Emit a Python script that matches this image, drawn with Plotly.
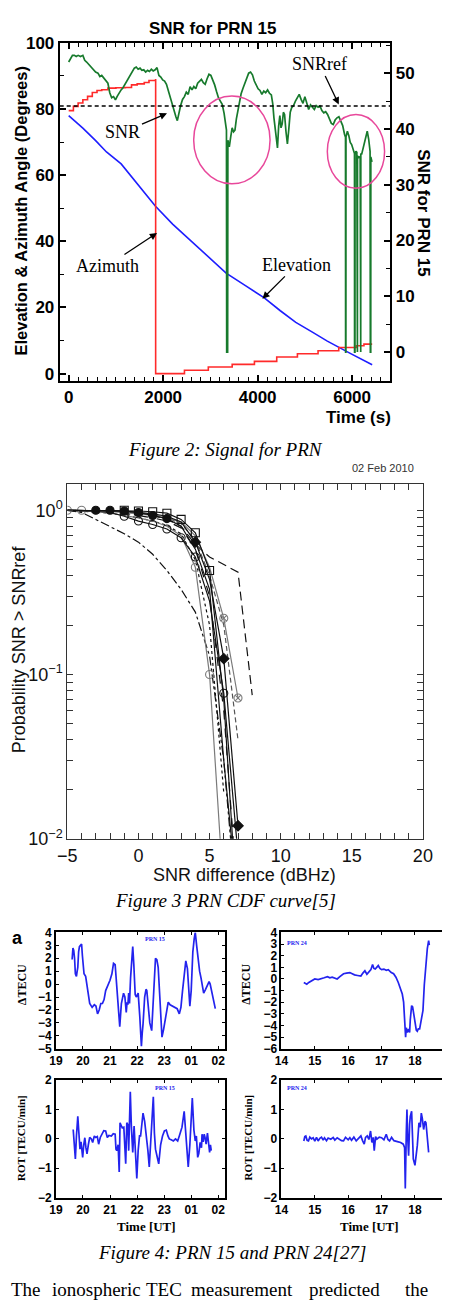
import plotly.graph_objects as go

W, H = 452, 1312
def fx(p): return p / W
def fy(p): return 1 - p / H

# ---------------- Figure 2 : SNR for PRN 15 ----------------
snr_t = [0, 40, 80, 120, 160, 200, 250, 300, 340, 380,
         420, 470, 520, 570, 620, 660, 700, 750, 790, 830,
         870, 910, 950, 990, 1030, 1070, 1110, 1150, 1190, 1230,
         1270, 1310, 1350, 1390, 1430, 1470, 1510, 1550, 1590, 1630,
         1670, 1710, 1750, 1790, 1830, 1870, 1910, 1950, 1990, 2030,
         2070, 2110, 2150, 2190, 2230, 2270, 2300, 2330, 2370, 2410,
         2450, 2490, 2530, 2570, 2610, 2650, 2690, 2730, 2770, 2810,
         2850, 2890, 2930, 2970, 3010, 3050, 3090, 3130, 3170, 3210,
         3250, 3290, 3320, 3340, 3345, 3365, 3370, 3400, 3430, 3460,
         3490, 3520, 3550, 3580, 3610, 3650, 3690, 3730, 3770, 3810,
         3850, 3890, 3930, 3970, 4010, 4050, 4090, 4130, 4170, 4210,
         4250, 4290, 4320, 4345, 4370, 4395, 4420, 4445, 4470, 4495,
         4520, 4545, 4570, 4600, 4630, 4660, 4690, 4720, 4760, 4800,
         4840, 4880, 4920, 4960, 5000, 5040, 5080, 5120, 5160, 5200,
         5240, 5280, 5320, 5360, 5400, 5440, 5480, 5520, 5560, 5600,
         5640, 5680, 5720, 5760, 5800, 5840, 5860, 5862, 5868, 5870,
         5900, 5930, 5960, 5990, 6020, 6050, 6052, 6060, 6062, 6080,
         6100, 6104, 6112, 6114, 6130, 6150, 6170, 6172, 6182, 6184,
         6200, 6230, 6260, 6290, 6320, 6350, 6380, 6386, 6394, 6396,
         6420]
snr_v = [52.0, 52.5, 53.2, 53.2, 53.0, 53.2, 53.0, 53.2, 52.3, 52.0,
         51.6, 51.2, 50.8, 50.2, 50.0, 49.4, 49.6, 49.0, 48.6, 48.2,
         46.5, 45.6, 45.8, 45.2, 45.9, 46.5, 47.0, 47.4, 48.0, 48.5,
         49.2, 49.8, 50.4, 50.9, 51.1, 50.7, 50.9, 50.5, 50.6, 50.2,
         50.5, 50.3, 50.7, 50.4, 50.6, 51.0, 49.6, 49.3, 48.8, 48.6,
         48.0, 46.8, 45.6, 44.2, 43.0, 42.2, 41.5, 42.8, 44.2, 45.3,
         45.8, 46.6, 46.2, 47.6, 47.0, 47.6, 47.2, 48.2, 48.6, 48.9,
         48.3, 48.0, 49.0, 49.8, 49.6, 48.8, 47.9, 46.7, 45.6, 45.0,
         44.4, 42.8, 41.0, 39.8, 0.0, 0.0, 38.0, 36.8, 38.6, 40.2,
         39.5, 39.8, 41.8, 43.2, 44.6, 46.3, 47.3, 48.2, 49.4, 50.0,
         50.2, 49.7, 48.6, 47.8, 47.2, 46.9, 46.2, 46.8, 46.5, 47.0,
         46.4, 46.1, 44.5, 42.0, 39.8, 37.5, 36.6, 40.5, 42.4, 40.2,
         40.9, 43.0, 42.6, 39.5, 37.3, 40.0, 43.0, 43.8, 44.2, 45.0,
         45.6, 46.2, 45.3, 44.6, 45.8, 44.8, 43.5, 44.3, 43.8, 43.5,
         44.2, 43.9, 44.1, 43.3, 42.9, 43.1, 42.6, 41.8, 41.0, 40.8,
         41.6, 42.0, 42.2, 41.4, 40.6, 39.0, 38.5, 0.0, 0.0, 38.6,
         39.6, 38.8, 37.6, 37.2, 36.2, 35.6, 0.0, 0.0, 35.4, 36.0,
         35.8, 0.0, 0.0, 35.2, 34.8, 35.0, 34.9, 0.0, 0.0, 35.6,
         35.4, 36.4, 37.8, 38.8, 39.6, 38.2, 36.0, 0.0, 0.0, 35.0,
         34.1]
az_t = [0, 100, 200, 300, 400, 500, 600, 700, 830, 1000, 1200, 1330, 1450, 1600, 1700,
        1840, 1841, 2451, 2956, 3461, 3932, 4404, 4842, 5279, 5717, 6087, 6250, 6424]
az_v = [79.5, 80.8, 81.8, 82.8, 83.8, 85.0, 85.6, 85.8, 86.3, 86.4, 86.5, 87.3, 87.6, 88.0, 88.6,
        88.8, 0.0, 1.0, 2.0, 2.8, 3.7, 5.0, 6.0, 6.9, 7.9, 8.4, 8.9, 8.9]
el_t = [0, 300, 566, 800, 1111, 1400, 1838, 2200, 2586, 2950, 3333, 3750, 4141, 4480, 4808, 5150, 5475, 5950, 6424]
el_v = [78.0, 74.2, 70.5, 67.0, 63.4, 58.4, 50.6, 45.2, 40.2, 35.2, 30.4, 26.5, 22.9, 19.0, 15.5, 12.6, 9.8, 6.2, 2.7]
snr_ref_level = 44.1

# ---------------- Figure 3 : CDF curves ----------------
cdf_x = [-5, -4, -3, -2, -1, 0, 1, 2, 3, 4, 5, 6, 7, 8]
cdf_a = [1.0, 1.0, 0.98, 0.96, 0.93, 0.90, 0.86, 0.80, 0.70, 0.45, 0.10, 0.0045]
cdf_b = [1.0, 1.0, 1.0, 1.0, 0.99, 0.97, 0.93, 0.89, 0.80, 0.58, 0.33, 0.03, 0.004]
cdf_c = [1.0, 1.0, 1.0, 1.0, 1.0, 0.99, 0.98, 0.96, 0.88, 0.73, 0.43, 0.07, 0.003]
cdf_d = [1.0, 1.0, 1.0, 1.0, 0.99, 0.97, 0.95, 0.92, 0.85, 0.64, 0.38, 0.125, 0.012]
cdf_e = [1.0, 1.0, 0.99, 0.98, 0.97, 0.95, 0.93, 0.90, 0.85, 0.70, 0.45, 0.22, 0.072]
cdf_f = [1.0, 0.99, 0.98, 0.96, 0.93, 0.90, 0.86, 0.81, 0.72, 0.50, 0.20, 0.019]
cdf_g = [1.0, 1.0, 0.99, 0.98, 0.96, 0.93, 0.90, 0.86, 0.78, 0.58, 0.30, 0.06, 0.004]
cdf_h = [1.0, 0.97, 0.88, 0.80, 0.72, 0.64, 0.54, 0.43, 0.33, 0.24, 0.13, 0.03, 0.003]
cdf_i = [1.0, 1.0, 1.0, 0.99, 0.98, 0.96, 0.93, 0.88, 0.80, 0.62, 0.52, 0.47, 0.42, 0.075]
cdf_j = [1.0, 1.0, 1.0, 0.99, 0.98, 0.96, 0.94, 0.90, 0.83, 0.66, 0.40, 0.20, 0.04]
cdf_k = [1.0, 1.0, 0.99, 0.97, 0.92, 0.86, 0.82, 0.77, 0.68, 0.52, 0.28, 0.077, 0.008]

# ---------------- Figure 4 : four panels ----------------
tl_t = [19.6, 19.63, 19.66, 19.69, 19.72, 19.76, 19.78, 19.81, 19.84, 19.87,
        19.91, 19.95, 19.98, 20.01, 20.04, 20.1, 20.17, 20.25, 20.34, 20.42,
        20.48, 20.54, 20.6, 20.66, 20.72, 20.78, 20.84, 20.92, 21.0, 21.07,
        21.13, 21.19, 21.25, 21.3, 21.36, 21.42, 21.47, 21.5, 21.55, 21.6,
        21.63, 21.66, 21.69, 21.72, 21.76, 21.8, 21.84, 21.88, 21.93, 21.97,
        22.04, 22.1, 22.16, 22.19, 22.22, 22.28, 22.33, 22.36, 22.4, 22.47,
        22.54, 22.6, 22.64, 22.68, 22.73, 22.78, 22.84, 22.88, 22.92, 22.98,
        23.05, 23.1, 23.15, 23.22, 23.31, 23.4, 23.48, 23.56, 23.62, 23.68,
        23.74, 23.8, 23.86, 23.91, 23.95, 24.0, 24.06, 24.11, 24.15, 24.2,
        24.26, 24.31, 24.36, 24.41, 24.46, 24.53, 24.6, 24.66, 24.7, 24.74,
        24.78, 24.83, 24.89]
tl_v = [1.9, 2.8, 2.6, 2.0, 0.8, 0.6, 0.9, 1.3, 2.5, 2.9,
        3.0, 3.1, 2.2, 1.0, 0.8, 0.6, -0.5, -1.5, -1.8, -1.6,
        -1.7, -2.3, -2.0, -1.5, -1.5, -1.2, -0.5, -0.1, 0.3, 0.8,
        1.6, 1.5, -0.4, -2.0, -3.3, -1.5, -0.8, -0.7, -1.0, -2.2,
        -1.4, -1.6, -0.7, -1.5, 0.5, 2.2, 2.9, 1.5, -0.8, -1.0,
        -0.7, -2.5, -4.8, -3.8, -3.1, -1.0, -0.4, -0.5, -1.5, -3.0,
        -3.6, -1.0, 1.0, 2.0, 1.9, 1.3, -1.0, -3.0, -4.1, -3.5,
        -2.5, -1.8, -1.4, -1.6, -1.7, -1.8, -1.9, -2.3, -1.8, -0.5,
        0.8, 1.8, 1.2, -1.0, -1.7, -0.5, 2.5, 3.5, 4.0, 3.0,
        1.8, 1.0, 0.5, -0.2, -0.7, -0.4, -0.1, 0.2, 0.0, -0.4,
        -0.8, -1.2, -1.9]
tr_t = [14.67, 14.72, 14.76, 14.82, 14.9, 14.95, 15.0, 15.1, 15.19, 15.28,
        15.38, 15.45, 15.52, 15.6, 15.67, 15.75, 15.86, 15.95, 16.05, 16.12,
        16.19, 16.28, 16.38, 16.44, 16.5, 16.56, 16.62, 16.68, 16.73, 16.77,
        16.81, 16.86, 16.9, 16.95, 17.0, 17.07, 17.14, 17.2, 17.29, 17.36,
        17.43, 17.5, 17.57, 17.62, 17.66, 17.69, 17.72, 17.74, 17.77, 17.81,
        17.84, 17.86, 17.9, 17.93, 17.97, 18.0, 18.04, 18.07, 18.1, 18.14,
        18.19, 18.24, 18.28, 18.33, 18.37, 18.41, 18.43]
tr_v = [-0.3, -0.4, -0.45, -0.3, -0.15, -0.05, 0.0, -0.05, 0.0, 0.1,
        0.2, 0.1, 0.15, 0.05, 0.0, 0.2, 0.45, 0.5, 0.55, 0.45,
        0.35, 0.3, 0.25, 0.5, 0.7, 0.4, 0.6, 0.8, 1.25, 0.9,
        0.85, 1.0, 1.15, 0.9, 0.8, 0.85, 0.75, 0.8, 0.55, 0.45,
        0.15, -0.3, -0.85, -1.3, -2.0, -3.5, -5.0, -4.2, -4.6, -4.3,
        -4.6, -3.5, -2.3, -2.4, -3.2, -3.6, -4.4, -4.5, -4.3, -4.3,
        -3.6, -2.7, -0.5, 1.5, 2.6, 3.3, 2.9]
bl_t = [19.64, 19.68, 19.72, 19.76, 19.81, 19.85, 19.89, 19.93, 19.99, 20.03,
        20.07, 20.11, 20.15, 20.2, 20.25, 20.31, 20.36, 20.42, 20.47, 20.53,
        20.58, 20.64, 20.7, 20.77, 20.84, 20.9, 20.96, 21.05, 21.12, 21.19,
        21.22, 21.25, 21.3, 21.34, 21.37, 21.4, 21.45, 21.51, 21.55, 21.58,
        21.62, 21.66, 21.69, 21.72, 21.75, 21.79, 21.84, 21.89, 21.94, 21.99,
        22.04, 22.09, 22.13, 22.18, 22.22, 22.28, 22.34, 22.4, 22.45, 22.52,
        22.6, 22.64, 22.68, 22.74, 22.8, 22.87, 22.94, 23.01, 23.08, 23.14,
        23.19, 23.26, 23.34, 23.42, 23.5, 23.56, 23.6, 23.66, 23.74, 23.8,
        23.85, 23.89, 23.95, 24.0, 24.04, 24.1, 24.15, 24.19, 24.24, 24.28,
        24.33, 24.38, 24.4, 24.44, 24.48, 24.51, 24.55, 24.6, 24.64, 24.68,
        24.71, 24.74]
bl_v = [0.32, -0.2, -0.68, 0.1, 0.77, 0.2, -0.35, -0.1, -0.63, -0.2,
        0.04, -0.3, -0.51, -0.2, 0.05, 0.0, -0.12, 0.1, 0.05, 0.08,
        -0.18, 0.05, 0.15, 0.28, 0.27, 0.05, 0.12, 0.1, 0.18, 0.16,
        -0.35, -0.4, -0.2, -1.13, 0.55, 0.5, 0.38, 0.4, -0.2, -0.85,
        0.55, 0.48, -0.4, 0.3, 1.61, 0.4, -0.46, 0.44, -0.3, -1.35,
        -0.4, 0.1, 0.1, 0.5, 0.88, 0.6, 0.16, -0.4, -0.96, 0.0,
        1.44, 0.2, -0.35, -0.6, -0.85, -0.2, 0.1, 0.27, 0.3, 0.1,
        0.0, -0.03, -0.07, 0.0, -0.07, 0.1, 0.21, 0.4, 0.94, 0.3,
        -0.5, -0.96, -0.2, 0.6, 1.39, 0.3, -0.07, 0.1, -0.63, -0.5,
        -0.12, -0.3, 0.16, -0.1, 0.16, 0.05, -0.18, 0.2, -0.3, -0.46,
        -0.2, -0.4]
br_t = [14.67, 14.7, 14.73, 14.77, 14.81, 14.85, 14.9, 14.95, 15.0, 15.05,
        15.1, 15.15, 15.2, 15.25, 15.29, 15.35, 15.4, 15.48, 15.55, 15.6,
        15.67, 15.72, 15.8, 15.86, 15.92, 16.0, 16.05, 16.1, 16.17, 16.24,
        16.3, 16.38, 16.43, 16.48, 16.52, 16.57, 16.62, 16.67, 16.71, 16.75,
        16.78, 16.82, 16.86, 16.93, 17.0, 17.07, 17.14, 17.19, 17.24, 17.3,
        17.37, 17.43, 17.5, 17.57, 17.65, 17.69, 17.71, 17.74, 17.76, 17.78,
        17.81, 17.84, 17.86, 17.9, 17.93, 17.95, 18.0, 18.04, 18.07, 18.12,
        18.16, 18.19, 18.22, 18.26, 18.3, 18.33, 18.37, 18.41]
br_v = [-0.07, 0.08, 0.1, -0.05, -0.07, 0.06, 0.0, 0.04, -0.08, 0.05,
        -0.07, 0.02, 0.06, -0.04, 0.04, -0.06, 0.03, -0.01, 0.05, -0.04,
        0.04, 0.0, -0.06, -0.07, 0.05, -0.03, 0.04, -0.05, 0.06, -0.07,
        0.02, 0.1, -0.06, -0.18, 0.05, 0.1, -0.02, 0.27, -0.12, 0.05,
        -0.4, 0.08, -0.01, 0.06, 0.04, -0.03, 0.16, -0.02, -0.07, 0.05,
        -0.06, -0.07, -0.1, -0.12, -0.18, -0.3, -1.69, 0.2, 1.0, 0.1,
        -0.57, 0.5, 0.77, 0.94, -0.3, -0.68, -0.9, -0.5, -0.23, 0.55,
        0.4, 0.88, 0.7, 0.32, 0.6, 0.55, 0.1, -0.46]
tl_labels = ['19', '20', '21', '22', '23', '01', '02']
tr_labels = ['14', '15', '16', '17', '18']

# ---------------- build figure ----------------
fig = go.Figure()

def pair(a, b):
    n = min(len(a), len(b))
    return a[:n], b[:n]

# Figure 2 traces
x_, y_ = pair(el_t, el_v)
fig.add_trace(go.Scatter(x=x_, y=y_, xaxis='x', yaxis='y', mode='lines',
                         line=dict(color='#1e1eff', width=1.6)))
x_, y_ = pair(az_t, az_v)
fig.add_trace(go.Scatter(x=x_, y=y_, xaxis='x', yaxis='y', mode='lines',
                         line=dict(color='#ff2a2a', width=1.6, shape='hv')))
x_, y_ = pair(snr_t, snr_v)
fig.add_trace(go.Scatter(x=x_, y=y_, xaxis='x', yaxis='y2', mode='lines',
                         line=dict(color='#177a2c', width=1.7)))

# Figure 3 traces
BLACK, GRAY = '#111111', '#7a7a7a'
cdf_specs = [
    (cdf_h, BLACK, 'dashdot', None, []),
    (cdf_i, BLACK, '9px,5px', None, []),
    (cdf_f, BLACK, 'dot', None, []),
    (cdf_g, BLACK, 'dash', None, []),
    (cdf_j, '#555555', '5px,3px', None, []),
    (cdf_a, GRAY, 'solid', 'circle-open', [-5, -4, 4, 5]),
    (cdf_k, BLACK, 'solid', 'circle-open', [-1, 0, 1, 2, 3, 4, 6]),
    (cdf_e, GRAY, 'solid', 'circle-x-open', [6, 7]),
    (cdf_b, BLACK, 'solid', 'circle', [-3, -2, -1, 0, 1, 2]),
    (cdf_c, BLACK, 'solid', 'square-open', [-1, 0, 1, 2, 3, 4, 5]),
    (cdf_d, BLACK, 'solid', 'diamond', [4, 6, 7]),
]
for vals, col, dash, sym, marks in cdf_specs:
    xs, ys = pair(cdf_x, vals)
    fig.add_trace(go.Scatter(x=xs, y=ys, xaxis='x3', yaxis='y3', mode='lines',
                             line=dict(color=col, width=1.2, dash=dash)))
    if sym:
        mx = [x for x in xs if x in marks]
        my = [y for x, y in zip(xs, ys) if x in marks]
        fig.add_trace(go.Scatter(x=mx, y=my, xaxis='x3', yaxis='y3', mode='markers',
                                 marker=dict(symbol=sym, size=8, color=col,
                                             line=dict(color=col, width=1.1))))

# Figure 4 traces
BLUE = '#2323ee'
for (tt, vv, xa, ya) in [(tl_t, tl_v, 'x4', 'y4'), (tr_t, tr_v, 'x5', 'y5'),
                         (bl_t, bl_v, 'x6', 'y6'), (br_t, br_v, 'x7', 'y7')]:
    x_, y_ = pair(tt, vv)
    fig.add_trace(go.Scatter(x=x_, y=y_, xaxis=xa, yaxis=ya, mode='lines',
                             line=dict(color=BLUE, width=1.7)))

# ---------------- axes ----------------
def bold(size):
    return dict(family='Liberation Sans', size=size, color='black', weight='bold')

base = dict(showgrid=False, zeroline=False, showline=True, linecolor='black')

layout = dict(
    width=W, height=H, margin=dict(l=0, r=0, t=0, b=0),
    paper_bgcolor='white', plot_bgcolor='rgba(0,0,0,0)', showlegend=False,
    font=dict(family='Liberation Sans', color='black'),
)

layout['xaxis'] = dict(base, domain=[fx(52), fx(398)], range=[-190, 6810], anchor='y',
                       tick0=0, dtick=2000, ticks='inside', ticklen=6, tickwidth=1.5,
                       tickcolor='black', mirror='ticks', linewidth=2,
                       minor=dict(ticks='inside', tick0=0, dtick=200, ticklen=4,
                                  tickwidth=1.2, tickcolor='black'),
                       tickfont=bold(17))
layout['yaxis'] = dict(base, domain=[fy(377), fy(34)], range=[-2.1, 100.1], anchor='x',
                       tick0=0, dtick=20, ticks='inside', ticklen=6, tickwidth=1.5,
                       tickcolor='black', linewidth=2,
                       minor=dict(ticks='inside', tick0=0, dtick=10, ticklen=4,
                                  tickwidth=1.2, tickcolor='black'),
                       tickfont=bold(17))
layout['yaxis2'] = dict(base, overlaying='y', side='right', anchor='x',
                        range=[-5.1, 55.5], tick0=0, dtick=10, ticks='inside', ticklen=6,
                        tickwidth=1.5, tickcolor='black', linewidth=2,
                        minor=dict(ticks='inside', tick0=0, dtick=5, ticklen=4,
                                   tickwidth=1.2, tickcolor='black'),
                        tickfont=bold(17))

cdf_xt = list(range(-5, 21))
cdf_xl = [(str(v).replace('-', '\u2212') if v % 5 == 0 else '') for v in cdf_xt]
cdf_yt, cdf_yl = [], []
for dec, lab in [(0.01, '10<sup>\u22122</sup>'), (0.1, '10<sup>\u22121</sup>')]:
    for m in range(1, 10):
        cdf_yt.append(dec * m)
        cdf_yl.append(lab if m == 1 else '')
cdf_yt.append(1.0)
cdf_yl.append('10<sup>0</sup>')
reg18 = dict(family='Liberation Sans', size=18, color='#111111')
layout['xaxis3'] = dict(base, domain=[fx(60), fx(432)], range=[-5, 20], anchor='y3',
                        tickmode='array', tickvals=cdf_xt, ticktext=cdf_xl,
                        ticks='inside', ticklen=6, tickcolor='#333333', mirror='ticks',
                        linecolor='#333333', linewidth=1.2, tickfont=reg18)
layout['yaxis3'] = dict(base, domain=[fy(842), fy(482)], type='log', range=[-2, 0.16],
                        anchor='x3', tickmode='array', tickvals=cdf_yt, ticktext=cdf_yl,
                        ticks='inside', ticklen=6, tickcolor='#333333', mirror='ticks',
                        linecolor='#333333', linewidth=1.2, tickfont=reg18)

def panel(xdom, ydom, xr, yr, xvals, xlabels, yvals, ymirror):
    xa = dict(base, domain=xdom, range=xr, tickmode='array', tickvals=xvals,
              ticktext=xlabels, ticks='inside', ticklen=3, tickcolor='black',
              mirror='ticks', linewidth=1.6, tickfont=bold(12))
    ya = dict(base, domain=ydom, range=yr, tickmode='array', tickvals=yvals,
              ticktext=[str(v).replace('-', '\u2212') for v in yvals],
              ticks='inside', ticklen=3, tickcolor='black',
              mirror='ticks' if ymirror else False, linewidth=1.6, tickfont=bold(12))
    return xa, ya

left_dom = [fx(48), fx(225)]
right_dom = [fx(284), 1.0]
top_dom = [fy(1055), fy(937)]
bot_dom = [fy(1206), fy(1087)]
tl_x = list(range(19, 26))
tr_x = list(range(14, 19))
xa, ya = panel(left_dom, top_dom, [19, 25.25], [-5, 4], tl_x, tl_labels, list(range(4, -6, -1)), True)
layout['xaxis4'] = dict(xa, anchor='y4'); layout['yaxis4'] = dict(ya, anchor='x4')
xa, ya = panel(right_dom, top_dom, [14, 18.81], [-6, 4], tr_x, tr_labels, list(range(4, -7, -1)), False)
layout['xaxis5'] = dict(xa, anchor='y5'); layout['yaxis5'] = dict(ya, anchor='x5')
xa, ya = panel(left_dom, bot_dom, [19, 25.25], [-2, 2], tl_x, tl_labels, list(range(2, -3, -1)), True)
layout['xaxis6'] = dict(xa, anchor='y6'); layout['yaxis6'] = dict(ya, anchor='x6')
xa, ya = panel(right_dom, bot_dom, [14, 18.81], [-2, 2], tr_x, tr_labels, list(range(2, -3, -1)), False)
layout['xaxis7'] = dict(xa, anchor='y7'); layout['yaxis7'] = dict(ya, anchor='x7')

fig.update_layout(**layout)

# ---------------- shapes ----------------
fig.add_shape(type='line', xref='x domain', x0=0, x1=1, yref='y2',
              y0=snr_ref_level, y1=snr_ref_level,
              line=dict(color='black', width=1.5, dash='4px,3px'))
fig.add_shape(type='circle', xref='x', yref='y', x0=2646, x1=4263, y0=57.4, y1=83.9,
              line=dict(color='#e8489b', width=1.5))
fig.add_shape(type='circle', xref='x', yref='y', x0=5475, x1=6687, y0=56.0, y1=78.3,
              line=dict(color='#e8489b', width=1.5))

# ---------------- annotations ----------------
ann = []
def txt(x, y, s, size, family='Liberation Sans', weight='normal', style='normal',
        color='black', angle=0, xanchor='center', yanchor='middle'):
    ann.append(dict(x=fx(x), y=fy(y), xref='paper', yref='paper', text=s,
                    showarrow=False, textangle=angle, xanchor=xanchor, yanchor=yanchor,
                    font=dict(family=family, size=size, color=color, weight=weight, style=style)))

SERIF = 'Liberation Serif'

def label_arrow(s, hx, hy, yref, ax, ay):
    # text sits at the arrow tail; arrow points to (hx, hy) in data coordinates
    ann.append(dict(x=hx, y=hy, xref='x', yref=yref, ax=ax, ay=ay, text=s,
                    showarrow=True, arrowhead=2, arrowsize=1.1, arrowwidth=1.3,
                    arrowcolor='black', standoff=0,
                    font=dict(family=SERIF, size=18, color='black')))

# Figure 2 texts
txt(212, 20, 'SNR for PRN 15', 17, weight='bold')
txt(12, 205, 'Elevation &amp; Azimuth Angle (Degrees)', 16.5, weight='bold', angle=-90)
txt(433, 207, 'SNR for PRN 15', 17, weight='bold', angle=90)
txt(365, 415, 'Time (s)', 17, weight='bold')
label_arrow('SNRref', 5717, 44.4, 'y2', -19, -40)
label_arrow('SNR', 2081, 42.8, 'y2', -44, 19)
label_arrow('Azimuth', 1870, 42.5, 'y', -50, 33)
label_arrow('Elevation', 4101, 22.6, 'y', 34, -34)
txt(225, 447, '<i>Figure 2: Signal for PRN</i>', 19, family=SERIF)

# Figure 3 texts
txt(390, 466, '02 Feb 2010', 11, color='#333333')
txt(9, 650, 'Probability SNR &gt; SNRref', 18, angle=-90, color='#111111')
txt(245, 879, 'SNR difference (dBHz)', 18, color='#111111')
txt(225, 905, '<i>Figure 3 PRN CDF curve[5]</i>', 19, family=SERIF)

# Figure 4 texts
txt(8, 943, 'a', 18, weight='bold')
txt(12, 990, '\u0394TECU', 12, family=SERIF, weight='bold', angle=-90)
txt(247, 990, '\u0394TECU', 12, family=SERIF, weight='bold', angle=-90)
txt(12, 1145, 'ROT [TECU/min]', 11, family=SERIF, weight='bold', angle=-90)
txt(249, 1145, 'ROT [TECU/min]', 11, family=SERIF, weight='bold', angle=-90)
txt(143, 1235, 'Time [UT]', 13, family=SERIF, weight='bold')
txt(376, 1235, 'Time [UT]', 13, family=SERIF, weight='bold')
txt(152, 944, 'PRN 15', 6, family=SERIF, weight='bold', color=BLUE)
txt(162, 1095, 'PRN 15', 6, family=SERIF, weight='bold', color=BLUE)
txt(300, 948, 'PRN 24', 6, family=SERIF, weight='bold', color=BLUE)
txt(300, 1095, 'PRN 24', 6, family=SERIF, weight='bold', color=BLUE)
txt(232, 1262, '<i>Figure 4: PRN 15 and PRN 24[27]</i>', 19, family=SERIF)

# Body text line at the bottom edge (kept fully inside the page)
for word, cx in [('The', 17), ('ionospheric', 90), ('TEC', 161), ('measurement', 243),
                 ('predicted', 350), ('the', 425)]:
    txt(cx, 1312, word, 19, family=SERIF, yanchor='bottom')

fig.update_layout(annotations=ann)
fig.write_html('out.html')
